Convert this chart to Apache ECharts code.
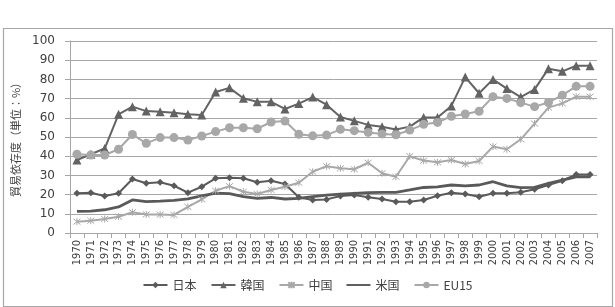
<!DOCTYPE html>
<html>
<head>
<meta charset="utf-8">
<script src="https://cdn.jsdelivr.net/npm/echarts@6/dist/echarts.min.js"></script>
<style>
  html, body { margin: 0; padding: 0; background: #fff; }
  #chart { width: 615px; height: 307px; }
</style>
</head>
<body>
<div id="chart"></div>
<script>
const years = []
for (let y = 1970; y <= 2007; y++) years.push(String(y))

const japan = [20.7, 21, 19.3, 20.7, 28.1, 25.9, 26.4, 24.6, 21, 24.1,
  28.5, 28.8, 28.5, 26.4, 27.2, 25.5, 18.6, 17.2, 17.5, 19.3,
  19.8, 18.6, 17.7, 16.3, 16.3, 17.2, 19.4, 21, 20.3, 18.9,
  20.7, 20.7, 21.2, 22.8, 25, 27.2, 30.5, 30.5]
const korea = [38, 41, 44, 61.8, 65.8, 63.5, 63.2, 62.6, 61.8, 61.5,
  73.4, 75.6, 70.2, 68.3, 68.3, 64.6, 67.4, 70.8, 66.8, 60.4,
  58.4, 56.3, 55.3, 53.9, 55.4, 60.2, 60.2, 66.2, 81.2, 72.8,
  80, 75.2, 70.8, 74.8, 85.6, 84.2, 87.1, 87.1]
const china = [5.9, 6.4, 7.3, 8.5, 10.8, 9.7, 9.6, 9.4, 13.6, 17.5,
  22, 24.4, 21.5, 20.3, 22.4, 24.1, 26.2, 31.9, 34.8, 33.7,
  33.2, 36.6, 31.1, 29.3, 40, 37.7, 36.8, 38, 35.9, 37.5,
  45, 43.6, 48.8, 57, 65.3, 67.5, 71, 71]
const usa = [11.3, 11.4, 12.1, 13.6, 17.2, 16.3, 16.6, 17, 17.8, 19.3,
  20.8, 20.5, 18.9, 18, 18.5, 17.7, 18, 18.9, 19.7, 20.2,
  20.6, 21, 21.2, 21.2, 22.4, 23.7, 24, 25, 24.5, 25,
  26.7, 24.5, 23.6, 23.8, 25.8, 27.5, 29.2, 29.2]
const eu15 = [41, 40.6, 40.6, 43.6, 51.3, 46.7, 49.7, 49.7, 48.4, 50.5,
  52.8, 54.8, 54.8, 54.3, 57.8, 58.3, 51.4, 50.6, 51, 54,
  53.3, 52.4, 51.6, 51.2, 53.6, 56.6, 57.6, 60.8, 62, 63.4,
  71, 70.1, 67.9, 65.8, 68, 71.8, 76.4, 76.4]

const yTicks = [0, 10, 20, 30, 40, 50, 60, 70, 80, 90, 100]

const font = 'Noto Sans CJK JP'
const starPath = 'path://M0,0L10,10M10,0L0,10M5,-1L5,11'
// 米国 has no marker, legend gets a flat sliver so only the line shows
const flatIcon = 'path://M0,4.6H10V5.4H0Z'

const chart = echarts.init(document.getElementById('chart'), null, { renderer: 'canvas' })

function line (name, data, color, symbol, size, width) {
  return {
    name: name,
    type: 'line',
    data: data,
    symbol: symbol,
    symbolSize: size,
    showSymbol: symbol !== 'none',
    lineStyle: { color: color, width: width },
    itemStyle: { color: color, borderColor: color, borderWidth: symbol === starPath ? 1 : 0 },
    emphasis: { disabled: true },
    animation: false
  }
}

chart.setOption({
  animation: false,
  textStyle: { fontFamily: font },
  graphic: {
    elements: [
      {
        type: 'rect',
        left: 1,
        top: 26,
        z: 100,
        silent: true,
        shape: { width: 609, height: 278 },
        style: { fill: null, stroke: '#a8a8a8', lineWidth: 1.2 }
      }
    ]
  },
  grid: { left: 70, right: 18, top: 41, bottom: 74 },
  legend: {
    bottom: 11,
    left: 'center',
    itemWidth: 24,
    itemHeight: 8,
    itemGap: 14,
    textStyle: { fontFamily: font, fontSize: 12, color: '#404040' },
    data: ['日本', '韓国', '中国', { name: '米国', icon: flatIcon }, 'EU15']
  },
  xAxis: {
    type: 'category',
    data: years,
    boundaryGap: true,
    axisLine: { lineStyle: { color: '#a6a6a6' } },
    axisTick: { show: true, length: 5, lineStyle: { color: '#a6a6a6' } },
    axisLabel: {
      rotate: 90,
      interval: 0,
      margin: 7,
      fontSize: 11,
      color: '#404040',
      fontFamily: 'DejaVu Sans Condensed'
    }
  },
  yAxis: {
    type: 'value',
    min: 0,
    max: 100,
    interval: 10,
    name: '貿易依存度（単位：%）',
    nameLocation: 'middle',
    nameRotate: 90,
    nameGap: 40,
    nameTextStyle: { fontSize: 11, color: '#404040', fontFamily: font },
    axisLine: { show: true, lineStyle: { color: '#a6a6a6' } },
    axisTick: { show: true, length: 5, lineStyle: { color: '#a6a6a6' } },
    axisLabel: {
      margin: 15,
      fontSize: 12,
      color: '#404040',
      fontFamily: 'DejaVu Sans',
      formatter: v => yTicks.indexOf(v) >= 0 ? String(v) : ''
    },
    splitLine: { lineStyle: { color: '#a6a6a6', width: 1 } }
  },
  series: [
    line('日本', japan, '#5a5a5a', 'diamond', 7, 2),
    line('韓国', korea, '#636363', 'triangle', 9, 2),
    line('中国', china, '#a8a8a8', starPath, 7, 2),
    line('米国', usa, '#595959', 'none', 0, 2.8),
    line('EU15', eu15, '#a8a8a8', 'circle', 9, 2)
  ]
})
</script>
</body>
</html>
